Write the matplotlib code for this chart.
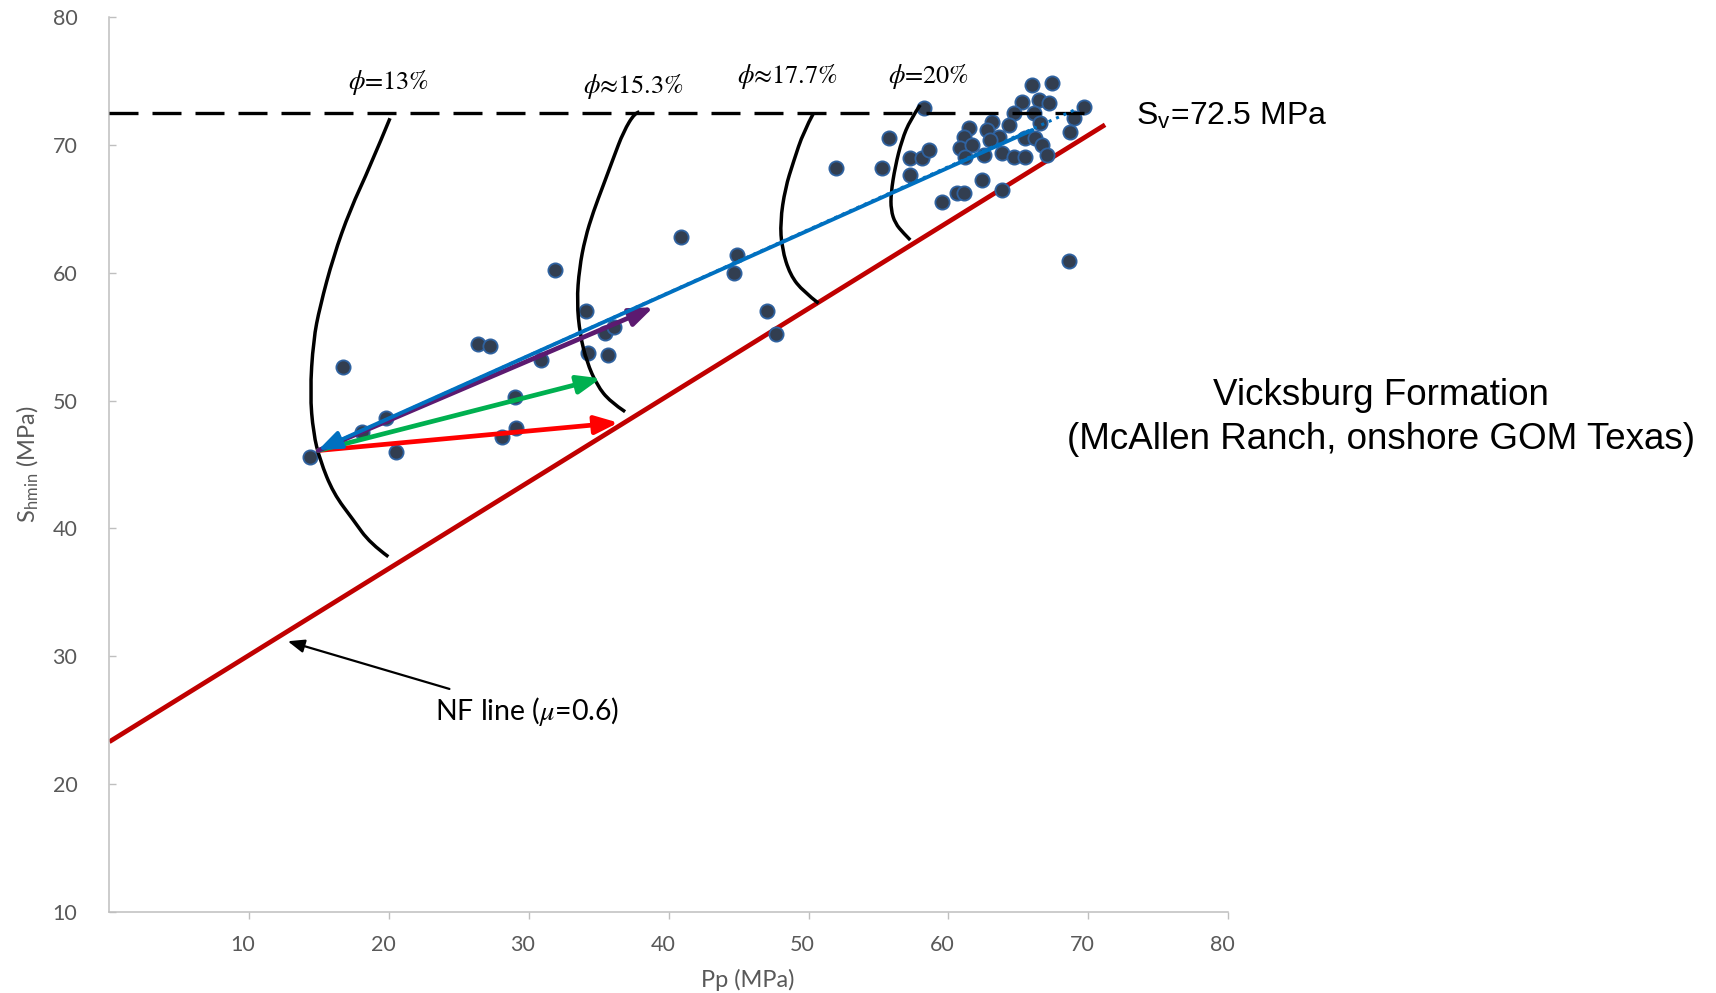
import numpy as np
import matplotlib.pyplot as plt
import matplotlib.transforms as mtransforms
from matplotlib.path import Path
from matplotlib.patches import PathPatch

plt.rcParams['mathtext.fontset'] = 'stix'

# datos de pozos: presion de poro vs esfuerzo horizontal minimo (MPa)
pp = [14.35, 16.73, 18.05, 19.79, 20.48, 26.34, 27.22, 28.06, 29.01, 29.06,
      30.87, 31.9, 34.09, 34.26, 35.45, 36.12, 35.64, 40.9, 44.9, 44.7,
      47.0, 47.7, 68.6,
      58.22, 65.97, 67.40, 65.26, 66.45, 67.16, 64.66, 69.66, 68.95, 68.71,
      66.09, 66.57, 64.3, 63.11, 62.75, 61.44, 61.08, 63.58, 65.49, 66.2,
      60.84, 61.68, 62.99, 66.69, 61.2, 62.51, 63.82, 64.66, 65.49, 67.04,
      55.72, 55.24, 57.27, 58.1, 58.58, 57.22, 51.97, 62.4, 60.6, 61.08,
      59.53, 63.82]
shmin = [45.57, 52.62, 47.57, 48.62, 45.96, 54.44, 54.28, 47.18, 50.31, 47.88,
         53.18, 60.2, 57.05, 53.71, 55.27, 55.74, 53.58, 62.8, 61.4, 60.0,
         57.0, 55.2, 60.9,
         72.89, 74.72, 74.85, 73.41, 73.54, 73.28, 72.50, 73.02, 72.11, 71.06,
         72.50, 71.72, 71.58, 71.84, 71.19, 71.33, 70.67, 70.67, 70.54, 70.54,
         69.76, 70.02, 70.41, 70.02, 69.1, 69.24, 69.37, 69.1, 69.1, 69.24,
         70.54, 68.19, 68.98, 68.98, 69.63, 67.67, 68.19, 67.28, 66.24, 66.24,
         65.58, 66.49]

sv = 72.5
sv_pp = [0, 70.2]
nf_pp = [0, 71.2]
nf_sh = [23.3, 71.6]
trend_pp = [14.9, 69.3]
trend_sh = [46.1, 72.9]

# curvas de porosidad (dibujadas a mano)
phi_labels = ['=13%', '≈15.3%', '≈17.7%', '=20%']
phi_label_xy = [(20.0, 74.9), (37.5, 74.6), (48.5, 75.4), (58.55, 75.4)]
phi13_pp = [20.07, 18.64, 17.21, 16.02, 15.06, 14.59, 14.35, 14.59, 15.06, 16.02, 17.45, 18.64, 19.95]
phi13_sh = [72.11, 68.32, 64.93, 61.27, 57.36, 54.75, 50.58, 47.45, 45.36, 42.75, 40.66, 38.84, 37.79]
phi15_pp = [37.9, 37.60, 36.76, 36.04, 35.33, 34.61, 34.02, 33.61, 33.43, 33.66, 34.14, 34.86, 35.81, 36.88]
phi15_sh = [72.6, 72.58, 71.06, 68.98, 66.89, 64.80, 62.71, 60.37, 57.75, 55.14, 53.05, 51.23, 49.92, 49.14]
phi17_pp = [50.35, 49.64, 48.92, 48.33, 47.97, 48.09, 48.68, 49.64, 50.71]
phi17_sh = [72.50, 71.06, 68.71, 66.63, 64.01, 61.93, 59.84, 58.53, 57.63]
phi20_pp = [57.98, 57.27, 56.67, 56.19, 55.89, 55.89, 56.19, 56.79, 57.27]
phi20_sh = [73.15, 71.98, 70.41, 68.32, 66.24, 64.93, 63.89, 63.11, 62.58]

# flechas de trayectoria (cola -> punta)
arrow_tail = (14.94, 46.1)
arrow_tips = [(36.4, 48.28), (35.14, 51.75), (38.9, 57.31)]
arrow_colors = ['#ff0000', '#00b050', '#5c1a70']
blue_start = (66.0, 71.19)
blue_end = (14.94, 46.14)


def curva_suave(xs, ys):
    # curva cuadratica que usa los puntos como puntos de control
    verts = [(xs[0], ys[0])]
    codes = [Path.MOVETO]
    for i in range(1, len(xs) - 2):
        verts += [(xs[i], ys[i]), ((xs[i] + xs[i + 1]) / 2, (ys[i] + ys[i + 1]) / 2)]
        codes += [Path.CURVE3, Path.CURVE3]
    verts += [(xs[-2], ys[-2]), (xs[-1], ys[-1])]
    codes += [Path.CURVE3, Path.CURVE3]
    return Path(verts, codes)


fig = plt.figure(figsize=(17.16, 9.93), dpi=100)
ax = fig.add_axes([0.0637, 0.0819, 0.6520, 0.9005])

ax.plot(sv_pp, [sv, sv], color='black', lw=2.4, dashes=(8.7, 4.2), dash_capstyle='butt', zorder=4)
ax.plot(nf_pp, nf_sh, color='#c00000', lw=3.4, solid_capstyle='butt', zorder=2)

for xs, ys in [(phi13_pp, phi13_sh), (phi15_pp, phi15_sh), (phi17_pp, phi17_sh), (phi20_pp, phi20_sh)]:
    ax.add_patch(PathPatch(curva_suave(xs, ys), fill=False, edgecolor='black', lw=2.5, zorder=4))
for lab, (x, y) in zip(phi_labels, phi_label_xy):
    ax.text(x, y, '$\\phi$' + lab, fontsize=19, family='STIXGeneral', ha='center', va='center', zorder=6)

ax.scatter(pp, shmin, s=105, color='#323e50', edgecolors='#2f62a0', linewidths=1.3, zorder=3)

ax.plot(trend_pp, trend_sh, color='#0070c0', lw=2.2, ls=':', zorder=4)

for tip, c in zip(arrow_tips, arrow_colors):
    ax.annotate('', xy=tip, xytext=arrow_tail, zorder=5,
                arrowprops=dict(arrowstyle='-|>,head_length=1.4,head_width=0.55', mutation_scale=10,
                                color=c, lw=3.4, shrinkA=0, shrinkB=0))
ax.annotate('', xy=blue_end, xytext=blue_start, zorder=5,
            arrowprops=dict(arrowstyle='-|>,head_length=1.4,head_width=0.55', mutation_scale=10,
                            color='#0070c0', lw=2.8, shrinkA=0, shrinkB=0))

# etiqueta de la linea NF
ax.annotate('NF line ($\\mu$=0.6)', xy=(12.76, 31.17), xytext=(29.85, 25.65),
            fontsize=20.5, family='Lato', ha='center', va='center', zorder=6,
            arrowprops=dict(arrowstyle='-|>,head_length=1.0,head_width=0.4', mutation_scale=10,
                            color='black', lw=1.6, shrinkA=9, shrinkB=0))

ax.text(73.43, 72.25, 'S$_\\mathregular{v}$=72.5 MPa', fontsize=23, family='Liberation Sans',
        ha='left', va='center', clip_on=False)
ax.text(90.96, 48.7, 'Vicksburg Formation\n(McAllen Ranch, onshore GOM Texas)', fontsize=26.5,
        family='Liberation Sans', ha='center', va='center', linespacing=1.32, clip_on=False)

ax.set_xlim(0, 80)
ax.set_ylim(10, 80)
ax.set_xticks(range(10, 81, 10))
ax.set_yticks(range(10, 81, 10))
for s in ['top', 'right']:
    ax.spines[s].set_visible(False)
for s in ['left', 'bottom']:
    ax.spines[s].set_color('#bfbfbf')
    ax.spines[s].set_linewidth(1.1)
ax.tick_params(axis='x', direction='out', length=5, width=1, color='#bfbfbf', pad=12,
               labelsize=15.5, labelcolor='#595959')
ax.tick_params(axis='y', direction='in', length=5, width=1, color='#bfbfbf', pad=23,
               labelsize=15.5, labelcolor='#595959')
for lab in ax.get_xticklabels() + ax.get_yticklabels():
    lab.set_family('Lato')
offset = mtransforms.ScaledTranslation(-0.06, 0, fig.dpi_scale_trans)
for lab in ax.get_xticklabels():
    lab.set_transform(lab.get_transform() + offset)

ax.set_xlabel('Pp (MPa)', fontsize=17, family='Lato', color='#595959')
ax.set_ylabel('S$_\\mathregular{hmin}$ (MPa)', fontsize=17, family='Lato', color='#595959')
ax.xaxis.set_label_coords(0.571, -0.064)
ax.yaxis.set_label_coords(-0.062, 0.5)

plt.savefig('out.png', dpi=100)
